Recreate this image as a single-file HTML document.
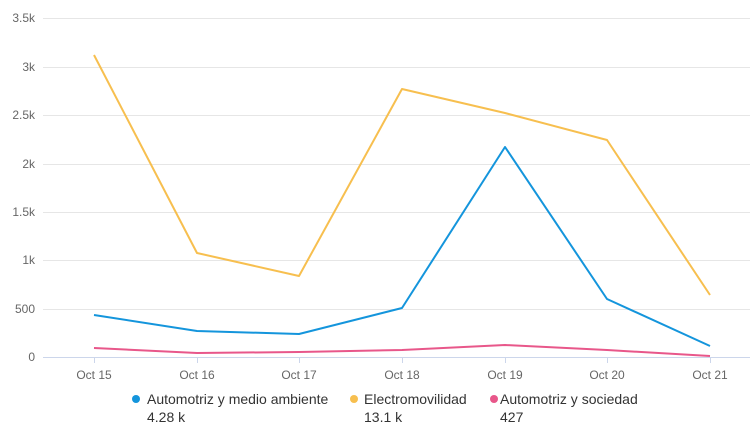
<!DOCTYPE html>
<html><head><meta charset="utf-8"><style>
body{margin:0;background:#fff;width:750px;height:428px;overflow:hidden}
text{font-family:"Liberation Sans",sans-serif}
</style></head><body>
<svg width="750" height="428" xmlns="http://www.w3.org/2000/svg">
<g stroke="#e6e6e6" stroke-width="1">
<line x1="43" x2="750" y1="18.5" y2="18.5"/>
<line x1="43" x2="750" y1="67.5" y2="67.5"/>
<line x1="43" x2="750" y1="115.5" y2="115.5"/>
<line x1="43" x2="750" y1="164.5" y2="164.5"/>
<line x1="43" x2="750" y1="212.5" y2="212.5"/>
<line x1="43" x2="750" y1="260.5" y2="260.5"/>
<line x1="43" x2="750" y1="309.5" y2="309.5"/>
</g>
<line x1="43" x2="750" y1="357.5" y2="357.5" stroke="#ccd6eb"/>
<g stroke="#ccd6eb">
<line x1="94.5" x2="94.5" y1="357" y2="363"/><line x1="197.5" x2="197.5" y1="357" y2="363"/>
<line x1="299.5" x2="299.5" y1="357" y2="363"/><line x1="402.5" x2="402.5" y1="357" y2="363"/>
<line x1="505.5" x2="505.5" y1="357" y2="363"/><line x1="607.5" x2="607.5" y1="357" y2="363"/>
<line x1="710.5" x2="710.5" y1="357" y2="363"/>
</g>
<g fill="#666" font-size="12" text-anchor="end">
<text x="35" y="22">3.5k</text><text x="35" y="71">3k</text><text x="35" y="119">2.5k</text>
<text x="35" y="168">2k</text><text x="35" y="216">1.5k</text><text x="35" y="264">1k</text>
<text x="35" y="313">500</text><text x="35" y="361">0</text>
</g>
<g fill="#666" font-size="12" text-anchor="middle">
<text x="94" y="379">Oct 15</text><text x="197" y="379">Oct 16</text><text x="299" y="379">Oct 17</text>
<text x="402" y="379">Oct 18</text><text x="505" y="379">Oct 19</text><text x="607" y="379">Oct 20</text>
<text x="710" y="379">Oct 21</text>
</g>
<g fill="none" stroke-width="2" stroke-linejoin="round">
<polyline stroke="#f7bf4f" points="94,55 197,253 299,276 402,89 505,113 607,140 710,295"/>
<polyline stroke="#1495dc" points="94,315 197,331 299,334 402,308 505,147 607,299 710,346"/>
<polyline stroke="#e8578a" points="94,348 197,353 299,352 402,350 505,345 607,350 710,356"/>
</g>
<g font-size="14" fill="#333">
<circle cx="136" cy="399" r="4" fill="#1495dc"/><text x="147" y="404">Automotriz y medio ambiente</text><text x="147" y="422">4.28 k</text>
<circle cx="354" cy="399" r="4" fill="#f7bf4f"/><text x="364" y="404">Electromovilidad</text><text x="364" y="422">13.1 k</text>
<circle cx="494" cy="399" r="4" fill="#e8578a"/><text x="500" y="404">Automotriz y sociedad</text><text x="500" y="422">427</text>
</g>
</svg>
</body></html>
